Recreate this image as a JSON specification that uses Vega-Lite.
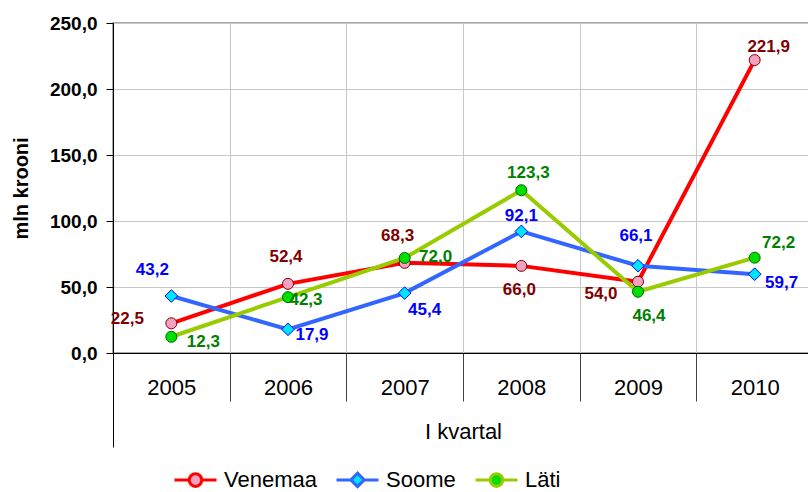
{
  "$schema": "https://vega.github.io/schema/vega-lite/v6.json",
  "width": 700,
  "height": 330,
  "autosize": "none",
  "padding": {"left": 113, "top": 23, "right": 0, "bottom": 139},
  "background": "white",
  "config": {
    "locale": {"number": {"decimal": ",", "thousands": " ", "grouping": [3], "currency": ["", " kr"]}},
    "view": {"stroke": "#8c8c8c", "strokeWidth": 1.5},
    "axis": {"labelFont": "Liberation Sans", "titleFont": "Liberation Sans", "labelColor": "#000", "titleColor": "#000"},
    "legend": {"labelFont": "Liberation Sans", "labelColor": "#000"},
    "text": {"font": "Liberation Sans", "fontSize": 17, "fontWeight": "bold", "align": "center", "baseline": "middle"}
  },
  "data": {
    "values": [
      {"series": "Venemaa", "year": "2005", "value": 22.5},
      {"series": "Venemaa", "year": "2006", "value": 52.4},
      {"series": "Venemaa", "year": "2007", "value": 68.3},
      {"series": "Venemaa", "year": "2008", "value": 66.0},
      {"series": "Venemaa", "year": "2009", "value": 54.0},
      {"series": "Venemaa", "year": "2010", "value": 221.9},
      {"series": "Soome", "year": "2005", "value": 43.2},
      {"series": "Soome", "year": "2006", "value": 17.9},
      {"series": "Soome", "year": "2007", "value": 45.4},
      {"series": "Soome", "year": "2008", "value": 92.1},
      {"series": "Soome", "year": "2009", "value": 66.1},
      {"series": "Soome", "year": "2010", "value": 59.7},
      {"series": "Läti", "year": "2005", "value": 12.3},
      {"series": "Läti", "year": "2006", "value": 42.3},
      {"series": "Läti", "year": "2007", "value": 72.0},
      {"series": "Läti", "year": "2008", "value": 123.3},
      {"series": "Läti", "year": "2009", "value": 46.4},
      {"series": "Läti", "year": "2010", "value": 72.2}
    ]
  },
  "encoding": {
    "x": {
      "field": "year", "type": "ordinal", "bandPosition": 0.5,
      "scale": {"type": "band", "paddingInner": 0, "paddingOuter": 0},
      "axis": {
        "title": "I kvartal", "labelAngle": 0, "tickBand": "extent",
        "grid": true, "gridColor": "#c8c8c8",
        "domainColor": "#000",
        "tickColor": {"condition": {"test": "datum.extra", "value": "#000"}, "value": "#404040"},
        "tickSize": {"condition": {"test": "datum.extra", "value": 94}, "value": 48},
        "labelFontSize": 22, "labelBaseline": "middle", "labelPadding": -14,
        "titleFontSize": 22, "titleFontWeight": "normal", "titlePadding": -26
      }
    },
    "y": {
      "field": "value", "type": "quantitative",
      "scale": {"domain": [0, 250], "nice": false},
      "axis": {
        "title": "mln krooni", "values": [0, 50, 100, 150, 200, 250], "format": ".1f",
        "grid": true, "gridColor": "#c8c8c8",
        "domainColor": "#000", "tickColor": "#000", "tickSize": 7,
        "labelFontSize": 19, "labelFontWeight": "bold", "labelPadding": 9,
        "titleFontSize": 20, "titleFontWeight": "bold", "titlePadding": 18
      }
    }
  },
  "layer": [
    {
      "mark": {"type": "line", "strokeWidth": 4},
      "encoding": {
        "color": {
          "field": "series", "type": "nominal",
          "scale": {"domain": ["Venemaa", "Soome", "Läti"], "range": ["#ff0000", "#3366ff", "#99cc00"]},
          "legend": {
            "title": null, "orient": "none", "direction": "horizontal",
            "legendX": 60, "legendY": 434, "padding": 0,
            "labelFontSize": 22, "labelOffset": 6, "columnPadding": 13,
            "symbolSize": 1764, "symbolStrokeWidth": 3,
            "encode": {
              "symbols": {
                "update": {
                  "shape": {"signal": "datum.value === 'Soome' ? 'M-1,0L-0.32,0M0.32,0L1,0M0,-0.32L0.32,0L0,0.32L-0.32,0Z' : 'M-1,0L-0.3,0M0.3,0L1,0M0.3,0A0.3,0.3,0,1,1,-0.3,0A0.3,0.3,0,1,1,0.3,0Z'"},
                  "fill": {"signal": "datum.value === 'Venemaa' ? '#f4a0c0' : datum.value === 'Soome' ? '#00e5ff' : '#00e000'"},
                  "fillOpacity": {"value": 1}
                }
              }
            }
          }
        }
      }
    },
    {
      "transform": [{"filter": "datum.series == 'Venemaa'"}],
      "mark": {"type": "point", "shape": "circle", "filled": true, "size": 121, "fill": "#f4a0c0", "stroke": "#800000", "strokeWidth": 1, "opacity": 1}
    },
    {
      "transform": [{"filter": "datum.series == 'Soome'"}],
      "mark": {"type": "point", "shape": "diamond", "filled": true, "size": 160, "fill": "#00e5ff", "stroke": "#0000ff", "strokeWidth": 1, "opacity": 1}
    },
    {
      "transform": [{"filter": "datum.series == 'Läti'"}],
      "mark": {"type": "point", "shape": "circle", "filled": true, "size": 121, "fill": "#00e000", "stroke": "#006400", "strokeWidth": 1, "opacity": 1}
    },
    {
      "encoding": {"text": {"field": "value", "type": "quantitative", "format": ".1f"}},
      "layer": [
        {"transform": [{"filter": "datum.series == 'Venemaa' && datum.year == '2005'"}], "mark": {"type": "text", "dx": -44, "dy": -4, "color": "#800000"}},
        {"transform": [{"filter": "datum.series == 'Venemaa' && datum.year == '2006'"}], "mark": {"type": "text", "dx": -2, "dy": -27, "color": "#800000"}},
        {"transform": [{"filter": "datum.series == 'Venemaa' && datum.year == '2007'"}], "mark": {"type": "text", "dx": -7, "dy": -27, "color": "#800000"}},
        {"transform": [{"filter": "datum.series == 'Venemaa' && datum.year == '2008'"}], "mark": {"type": "text", "dx": -2, "dy": 24, "color": "#800000"}},
        {"transform": [{"filter": "datum.series == 'Venemaa' && datum.year == '2009'"}], "mark": {"type": "text", "dx": -37, "dy": 12, "color": "#800000"}},
        {"transform": [{"filter": "datum.series == 'Venemaa' && datum.year == '2010'"}], "mark": {"type": "text", "dx": 14, "dy": -13, "color": "#800000"}},
        {"transform": [{"filter": "datum.series == 'Soome' && datum.year == '2005'"}], "mark": {"type": "text", "dx": -19, "dy": -26, "color": "#0000ff"}},
        {"transform": [{"filter": "datum.series == 'Soome' && datum.year == '2006'"}], "mark": {"type": "text", "dx": 24, "dy": 6, "color": "#0000ff"}},
        {"transform": [{"filter": "datum.series == 'Soome' && datum.year == '2007'"}], "mark": {"type": "text", "dx": 20, "dy": 17, "color": "#0000ff"}},
        {"transform": [{"filter": "datum.series == 'Soome' && datum.year == '2008'"}], "mark": {"type": "text", "dx": 0, "dy": -15, "color": "#0000ff"}},
        {"transform": [{"filter": "datum.series == 'Soome' && datum.year == '2009'"}], "mark": {"type": "text", "dx": -2, "dy": -30, "color": "#0000ff"}},
        {"transform": [{"filter": "datum.series == 'Soome' && datum.year == '2010'"}], "mark": {"type": "text", "dx": 27, "dy": 9, "color": "#0000ff"}},
        {"transform": [{"filter": "datum.series == 'Läti' && datum.year == '2005'"}], "mark": {"type": "text", "dx": 32, "dy": 5, "color": "#008000"}},
        {"transform": [{"filter": "datum.series == 'Läti' && datum.year == '2006'"}], "mark": {"type": "text", "dx": 18, "dy": 3, "color": "#008000"}},
        {"transform": [{"filter": "datum.series == 'Läti' && datum.year == '2007'"}], "mark": {"type": "text", "dx": 31, "dy": -1, "color": "#008000"}},
        {"transform": [{"filter": "datum.series == 'Läti' && datum.year == '2008'"}], "mark": {"type": "text", "dx": 7, "dy": -17, "color": "#008000"}},
        {"transform": [{"filter": "datum.series == 'Läti' && datum.year == '2009'"}], "mark": {"type": "text", "dx": 11, "dy": 24, "color": "#008000"}},
        {"transform": [{"filter": "datum.series == 'Läti' && datum.year == '2010'"}], "mark": {"type": "text", "dx": 24, "dy": -15, "color": "#008000"}}
      ]
    }
  ]
}
